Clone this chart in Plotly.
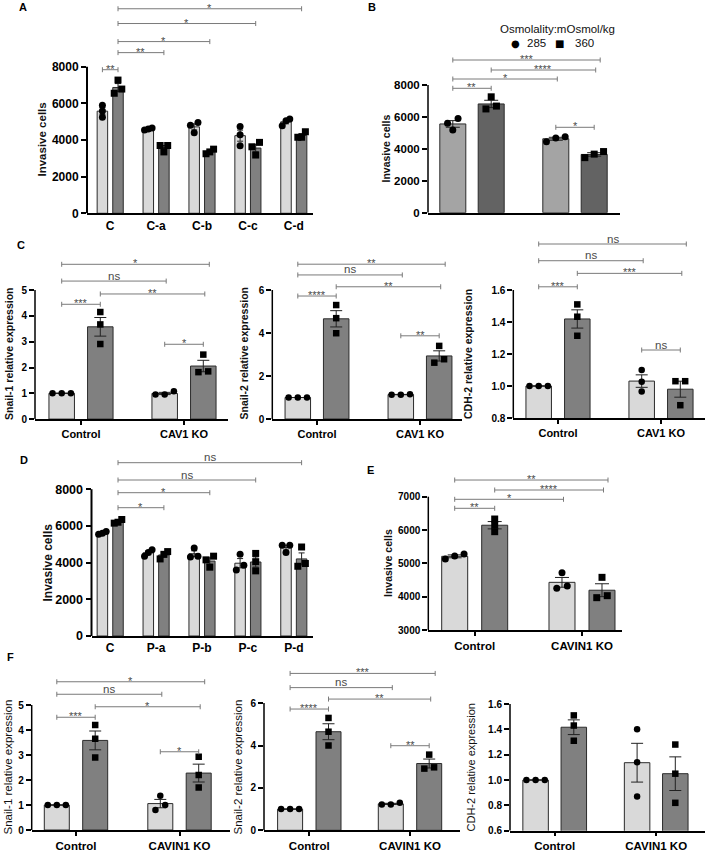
import numpy as np
import plotly.graph_objects as go

W, H = 709, 851
FONT = "Liberation Sans"

# ======================= DATA =======================
# Panel A
A_categories = ["C", "C-a", "C-b", "C-c", "C-d"]
A_285_points = [[5900, 5580, 5240], [4600, 4550, 4650], [4950, 4800, 4400], [4730, 4290, 3690], [5150, 5050, 4780]]
A_360_points = [[7270, 6780, 6550], [3700, 3700, 3350], [3500, 3350, 3250], [3870, 3630, 3180], [4450, 4150, 4150]]
A_yticks = [0, 2000, 4000, 6000, 8000]
A_brackets = [(0, 0, 0, 1, "**", 7836), (0, 1, 1, 1, "**", 8767), (0, 1, 2, 1, "*", 9370),
              (0, 1, 3, 1, "*", 10356), (0, 1, 4, 1, "*", 11162)]

# Panel B
B_categories = ["", ""]
B_285_points = [[5900, 5600, 5180], [4450, 4760, 4680]]
B_360_points = [[7260, 6500, 6680], [3830, 3450, 3670]]
B_yticks = [0, 2000, 4000, 6000, 8000]
B_brackets = [(0, 0, 1, 1, "***", 9566), (0, 1, 1, 1, "****", 8940), (0, 0, 1, 0, "*", 8376),
              (0, 0, 0, 1, "**", 7793), (1, 0, 1, 1, "*", 5350)]
legend_title = "Osmolality:mOsmol/kg"
legend_labels = ["285", "360"]

# Panel C
C_categories = ["Control", "CAV1 KO"]
C1_285_points = [[1.0, 1.0, 1.0], [0.95, 1.08, 0.95]]
C1_360_points = [[4.15, 3.67, 2.91], [2.5, 1.82, 1.85]]
C1_yticks = [0, 1, 2, 3, 4, 5]
C1_brackets = [(0, 0, 1, 1, "*", 6.0), (0, 0, 1, 0, "ns", 5.35), (0, 1, 1, 1, "**", 4.85),
               (0, 0, 0, 1, "***", 4.45), (1, 0, 1, 1, "*", 2.9)]
C2_285_points = [[1.0, 1.0, 1.0], [1.13, 1.15, 1.13]]
C2_360_points = [[5.3, 4.69, 3.99], [3.4, 2.62, 2.78]]
C2_yticks = [0, 2, 4, 6]
C2_brackets = [(0, 0, 1, 1, "**", 7.2), (0, 0, 1, 0, "ns", 6.7), (0, 1, 1, 1, "**", 6.15),
               (0, 0, 0, 1, "****", 5.72), (1, 0, 1, 1, "**", 3.87)]
C3_285_points = [[1.0, 1.0, 1.0], [1.1, 1.027, 0.965]]
C3_360_points = [[1.51, 1.433, 1.314], [1.03, 1.03, 0.88]]
C3_yticks = [0.8, 1.0, 1.2, 1.4, 1.6]
C3_brackets = [(0, 0, 1, 1, "ns", 1.8875), (0, 0, 1, 0, "ns", 1.783), (0, 1, 1, 1, "***", 1.704),
               (0, 0, 0, 1, "***", 1.62), (1, 0, 1, 1, "ns", 1.225)]

# Panel D
D_categories = ["C", "P-a", "P-b", "P-c", "P-d"]
D_285_points = [[5700, 5600, 5550], [4700, 4550, 4350], [4800, 4350, 4300], [4450, 3850, 3600], [4950, 4950, 4550]]
D_360_points = [[6350, 6200, 6150], [4600, 4450, 4200], [4350, 4150, 3750], [4500, 4050, 3550], [4850, 3950, 3800]]
D_yticks = [0, 2000, 4000, 6000, 8000]
D_brackets = [(0, 1, 4, 1, "ns", 9444), (0, 1, 3, 1, "ns", 8501), (0, 1, 2, 1, "*", 7809),
              (0, 1, 1, 1, "*", 6992)]

# Panel E
E_categories = ["Control", "CAVIN1 KO"]
E_285_points = [[5280, 5130, 5220], [4720, 4250, 4320]]
E_360_points = [[6330, 6150, 5950], [4580, 3970, 4030]]
E_yticks = [3000, 4000, 5000, 6000, 7000]
E_brackets = [(0, 0, 1, 1, "**", 7500), (0, 1, 1, 1, "****", 7200), (0, 0, 1, 0, "*", 6921),
              (0, 0, 0, 1, "**", 6651)]

# Panel F
F_categories = ["Control", "CAVIN1 KO"]
F1_285_points = [[1.0, 1.0, 1.0], [1.37, 1.0, 0.8]]
F1_360_points = [[4.2, 3.65, 2.9], [2.93, 2.2, 1.7]]
F1_yticks = [0, 1, 2, 3, 4, 5]
F1_brackets = [(0, 0, 1, 1, "*", 5.93), (0, 0, 1, 0, "ns", 5.43), (0, 1, 1, 1, "*", 4.93),
               (0, 0, 0, 1, "***", 4.51), (1, 0, 1, 1, "*", 3.13)]
F2_285_points = [[1.0, 1.0, 1.0], [1.22, 1.3, 1.22]]
F2_360_points = [[5.3, 4.65, 4.0], [3.57, 2.91, 2.97]]
F2_yticks = [0, 2, 4, 6]
F2_brackets = [(0, 0, 1, 1, "***", 7.4), (0, 0, 1, 0, "ns", 6.73), (0, 1, 1, 1, "**", 6.19),
               (0, 0, 0, 1, "****", 5.72), (1, 0, 1, 1, "**", 3.99)]
F3_285_points = [[1.0, 1.0, 1.0], [1.40, 1.14, 0.87]]
F3_360_points = [[1.51, 1.43, 1.31], [1.28, 1.05, 0.82]]
F3_yticks = [0.6, 0.8, 1.0, 1.2, 1.4, 1.6]
F3_brackets = []

# ======================= STYLE / LAYOUT =======================
LIGHT, DARK = "#d9d9d9", "#808080"
B_LIGHT, B_DARK = "#a4a4a4", "#636363"


def mk(**kw):
    base = dict(colors=(LIGHT, DARK), tickfs=10, catfs=11, lw=1.5, xticks=True, capw=6,
                ms=6.5, ytitle_fs=10.5, ytitle_bold=True, dec=0, nudge=True, xticklen=4)
    base.update(kw)
    return base


panels = [
    dict(cats=A_categories, pts=(A_285_points, A_360_points), yt=A_yticks, br=A_brackets,
         st=mk(xpx=(87, 313), c0=110.2, unit=45.9, off=7.8, bw=10.5, y0=213.3, ymin=0,
               ppu=146.6 / 8000, ytop=0, ymax_axis=8000, tickfs=12, catfs=12, lw=2, xticks=False,
               capw=3, ms=7, ytitle="Invasive cells", ytpos=(41.5, 140), ytitle_fs=11.5,
               letter="A", lpos=(23.5, 7), nudge=False)),
    dict(cats=B_categories, pts=(B_285_points, B_360_points), yt=B_yticks, br=B_brackets,
         st=mk(xpx=(428, 620), c0=472, unit=103, off=19.2, bw=26, y0=212.7, ymin=0,
               ppu=127.7 / 8000, ytop=45, ymax_axis=8000, tickfs=11.5, xticks=False, capw=7,
               colors=(B_LIGHT, B_DARK), ms=7, ytitle="Invasive cells", ytpos=(385, 148.5),
               letter="B", lpos=(371.5, 7), noticklabels=True)),
    dict(cats=C_categories, pts=(C1_285_points, C1_360_points), yt=C1_yticks, br=C1_brackets,
         st=mk(xpx=(35, 228), c0=81, unit=103, off=19.3, bw=25.5, y0=419.1, ymin=0, ppu=25.8,
               ytop=250, ymax_axis=5, ytitle="Snail-1 relative expression", ytpos=(9, 354),
               letter="C", lpos=(21, 245))),
    dict(cats=C_categories, pts=(C2_285_points, C2_360_points), yt=C2_yticks, br=C2_brackets,
         st=mk(xpx=(272.3, 462), c0=317, unit=103, off=19.2, bw=25.5, y0=419, ymin=0, ppu=21.5,
               ytop=250, ymax_axis=6, ytitle="Snail-2 relative expression", ytpos=(243.5, 354))),
    dict(cats=C_categories, pts=(C3_285_points, C3_360_points), yt=C3_yticks, br=C3_brackets,
         st=mk(xpx=(513.3, 705), c0=558, unit=103, off=19.3, bw=25.5, y0=418, ymin=0.8, ppu=160,
               ytop=230, ymax_axis=1.6, dec=1, ytitle="CDH-2 relative expression",
               ytpos=(468, 354))),
    dict(cats=D_categories, pts=(D_285_points, D_360_points), yt=D_yticks, br=D_brackets,
         st=mk(xpx=(91.5, 313), c0=110.2, unit=45.9, off=7.8, bw=10.5, y0=636, ymin=0,
               ppu=36.7 / 2000, ytop=450, ymax_axis=8000, tickfs=12.5, catfs=12, lw=2,
               xticks=False, capw=3, ms=7, ytitle="Invasive cells", ytpos=(47, 562.5),
               ytitle_fs=12, letter="D", lpos=(24, 460), nudge=False)),
    dict(cats=E_categories, pts=(E_285_points, E_360_points), yt=E_yticks, br=E_brackets,
         st=mk(xpx=(428.3, 622), c0=474.7, unit=107.3, off=20, bw=26, y0=630, ymin=3000,
               ppu=33.33 / 1000, ytop=470, ymax_axis=7000, catfs=11.5, capw=7, ms=7,
               ytitle="Invasive cells", ytpos=(388, 563), letter="E", lpos=(370, 470))),
    dict(cats=F_categories, pts=(F1_285_points, F1_360_points), yt=F1_yticks, br=F1_brackets,
         st=mk(xpx=(31.7, 230), c0=76, unit=103.5, off=19.2, bw=25, y0=830, ymin=0, ppu=25,
               ytop=665, ymax_axis=5, catfs=11.5, ytitle="Snail-1 relative expression",
               ytpos=(7, 767.5), ytitle_bold=False, ytitle_fs=11.5, letter="F", lpos=(10, 657))),
    dict(cats=F_categories, pts=(F2_285_points, F2_360_points), yt=F2_yticks, br=F2_brackets,
         st=mk(xpx=(264, 460), c0=309.3, unit=100.7, off=19.2, bw=25, y0=830.3, ymin=0, ppu=21.2,
               ytop=665, ymax_axis=6, catfs=11.5, ytitle="Snail-2 relative expression",
               ytpos=(237, 767.5), ytitle_bold=False, ytitle_fs=11.5)),
    dict(cats=F_categories, pts=(F3_285_points, F3_360_points), yt=F3_yticks, br=F3_brackets,
         st=mk(xpx=(510, 705), c0=554.7, unit=101.5, off=19.1, bw=25.5, y0=830.7, ymin=0.6,
               ppu=126.7, ytop=665, ymax_axis=1.6, dec=1, catfs=11.5,
               ytitle="CDH-2 relative expression", ytpos=(470, 767.5), ytitle_bold=False,
               ytitle_fs=11)),
]


def px2x(px):
    return px / W


def px2y(py):
    return 1 - py / H


def sem(v):
    v = np.asarray(v, float)
    return v.std(ddof=1) / np.sqrt(len(v))


def jitter_px(vals, ppu, ms, maxoff):
    vals = np.asarray(vals, float)
    order = np.argsort(vals, kind="stable")
    py = vals * ppu
    offs = np.zeros(len(vals))
    clusters, cur = [], [order[0]]
    for a, b in zip(order[:-1], order[1:]):
        if py[b] - py[a] < 0.8 * ms:
            cur.append(b)
        else:
            clusters.append(cur)
            cur = [b]
    clusters.append(cur)
    for cl in clusters:
        k = len(cl)
        if k > 1:
            sp = min(1.5 * ms, 2 * maxoff / (k - 1))
            for j, idx in enumerate(cl):
                offs[idx] = (j - (k - 1) / 2) * sp
    return offs


fig = go.Figure()
shapes, annotations = [], []
layout_axes = {}
BR_COLOR = "#7a7a7a"

for i, p in enumerate(panels, start=1):
    st = p["st"]
    xn = "x" if i == 1 else f"x{i}"
    yn = "y" if i == 1 else f"y{i}"
    n = len(p["cats"])
    xr = [(st["xpx"][0] - st["c0"]) / st["unit"], (st["xpx"][1] - st["c0"]) / st["unit"]]
    yr = [st["ymin"], st["ymin"] + (st["y0"] - st["ytop"]) / st["ppu"]]
    xdom = [px2x(st["xpx"][0]), px2x(st["xpx"][1])]
    ydom = [px2y(st["y0"]), px2y(st["ytop"])]
    soff = [-st["off"] / st["unit"], st["off"] / st["unit"]]

    # bars with mean +/- SEM
    for s in (0, 1):
        pts = p["pts"][s]
        fig.add_trace(go.Bar(
            x=np.arange(n) + soff[s], y=[float(np.mean(v)) for v in pts],
            width=st["bw"] / st["unit"],
            marker=dict(color=st["colors"][s], line=dict(color="#2b2b2b", width=1)),
            error_y=dict(type="data", array=[float(sem(v)) for v in pts], visible=True,
                         color="#222222", thickness=1, width=st["capw"]),
            xaxis=xn, yaxis=yn, hoverinfo="skip", showlegend=False))
    # individual replicate points
    for s in (0, 1):
        pts = p["pts"][s]
        xs, ys = [], []
        for g, v in enumerate(pts):
            offs = jitter_px(v, st["ppu"], st["ms"], 0.36 * st["bw"])
            for val, o in zip(v, offs):
                xs.append(g + soff[s] + o / st["unit"])
                ys.append(val)
        fig.add_trace(go.Scatter(
            x=xs, y=ys, mode="markers",
            marker=dict(symbol="circle" if s == 0 else "square", size=st["ms"], color="black",
                        line=dict(width=0)),
            xaxis=xn, yaxis=yn, hoverinfo="skip", showlegend=False, cliponaxis=False))

    dec = st["dec"]
    layout_axes["xaxis" if i == 1 else f"xaxis{i}"] = dict(
        domain=xdom, range=xr, anchor=yn, showgrid=False, zeroline=False, automargin=False,
        showline=True, linecolor="black", linewidth=st["lw"],
        ticks="outside" if st["xticks"] else "", ticklen=st["xticklen"], tickwidth=st["lw"],
        tickcolor="black", tickvals=list(range(n)), ticktext=p["cats"],
        showticklabels=not st.get("noticklabels", False),
        tickfont=dict(family=FONT, size=st["catfs"], color="black", weight=700),
        fixedrange=True)
    layout_axes["yaxis" if i == 1 else f"yaxis{i}"] = dict(
        domain=ydom, range=yr, anchor=xn, showgrid=False, zeroline=False, showline=False,
        automargin=False, ticks="outside", ticklen=5, tickwidth=st["lw"], tickcolor="black",
        tickvals=p["yt"], ticktext=[f"{v:.{dec}f}" for v in p["yt"]],
        tickfont=dict(family=FONT, size=st["tickfs"], color="black", weight=700),
        fixedrange=True)

    # y axis line only up to the last tick
    shapes.append(dict(type="line", xref=f"{xn} domain", yref=yn, x0=0, x1=0,
                       y0=st["ymin"], y1=st["ymax_axis"], line=dict(color="black", width=st["lw"]),
                       layer="above"))

    # significance brackets
    for (g1, s1, g2, s2, lab, h) in p["br"]:
        xa = g1 + soff[s1]
        xb = g2 + soff[s2]
        if st["nudge"]:
            if (g1, s1, g2, s2) == (0, 0, 1, 1):
                xb += 6 / st["unit"]
            elif g1 != g2:
                xb += 1.5 / st["unit"]
        shapes.append(dict(type="line", xref=xn, yref=yn, x0=xa, x1=xb, y0=h, y1=h,
                           line=dict(color=BR_COLOR, width=1), layer="above"))
        for xe in (xa, xb):
            shapes.append(dict(type="line", xref=xn, yref=yn, ysizemode="pixel", yanchor=h,
                               x0=xe, x1=xe, y0=-2.5, y1=2.5,
                               line=dict(color=BR_COLOR, width=1), layer="above"))
        annotations.append(dict(x=(xa + xb) / 2, y=h, xref=xn, yref=yn, text=lab,
                                showarrow=False, yanchor="middle", xanchor="center",
                                yshift=5.5 if lab == "ns" else 1,
                                font=dict(family=FONT, size=11.5 if lab == "ns" else 11,
                                          color="#4a4a4a")))

    # y title
    txt = f"<b>{st['ytitle']}</b>" if st["ytitle_bold"] else st["ytitle"]
    annotations.append(dict(x=px2x(st["ytpos"][0]), y=px2y(st["ytpos"][1]), xref="paper",
                            yref="paper", text=txt, textangle=-90, showarrow=False,
                            xanchor="center", yanchor="middle",
                            font=dict(family=FONT, size=st["ytitle_fs"], color="#111111")))
    if "letter" in st:
        annotations.append(dict(x=px2x(st["lpos"][0]), y=px2y(st["lpos"][1]), xref="paper",
                                yref="paper", text=f"<b>{st['letter']}</b>", showarrow=False,
                                xanchor="center", yanchor="middle",
                                font=dict(family=FONT, size=11, color="black")))

# legend of panel B
annotations.append(dict(x=px2x(557), y=px2y(29), xref="paper", yref="paper", text=legend_title,
                        showarrow=False, xanchor="center", yanchor="middle",
                        font=dict(family=FONT, size=11.5, color="#111111")))
for sym, sx, lab, lx in (("\u25CF", 515, legend_labels[0], 536), ("\u25A0", 559, legend_labels[1], 584)):
    annotations.append(dict(x=px2x(sx), y=px2y(43), xref="paper", yref="paper", text=sym,
                            showarrow=False, xanchor="center", yanchor="middle",
                            font=dict(family="DejaVu Sans", size=10, color="black")))
    annotations.append(dict(x=px2x(lx), y=px2y(43), xref="paper", yref="paper", text=lab,
                            showarrow=False, xanchor="center", yanchor="middle",
                            font=dict(family=FONT, size=11.5, color="#111111")))

fig.update_layout(
    width=W, height=H, margin=dict(l=0, r=0, t=0, b=0, autoexpand=False),
    paper_bgcolor="white", plot_bgcolor="white", barmode="overlay", showlegend=False,
    font=dict(family=FONT, color="black"),
    shapes=shapes, annotations=annotations, **layout_axes)

# remove the browser's default page margin so the 709x851 figure fills the window exactly
PAGE_FIX = ("document.body.style.margin='0';document.body.style.padding='0';"
            "document.body.style.overflow='hidden';"
            "document.documentElement.style.overflow='hidden';")
fig.write_html("out.html", post_script=PAGE_FIX, config={"displayModeBar": False})
